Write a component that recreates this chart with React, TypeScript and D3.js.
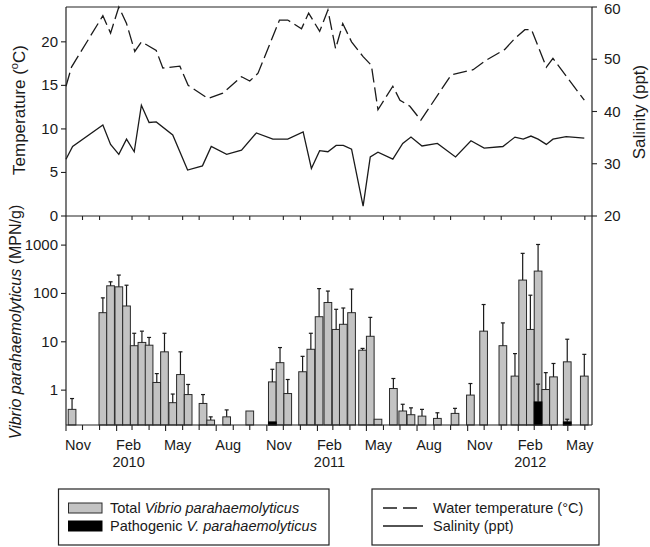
import React from 'react';
import * as d3 from 'd3';

// ---- Data ----
const sampleDates = [
  '2009-11-12', '2010-01-07', '2010-01-21', '2010-02-05', '2010-02-19', '2010-03-05', '2010-03-19',
  '2010-04-01', '2010-04-15', '2010-04-29', '2010-05-14', '2010-05-28', '2010-06-11', '2010-07-08',
  '2010-07-22', '2010-08-20', '2010-10-01', '2010-11-11', '2010-11-25', '2010-12-09', '2011-01-05',
  '2011-01-20', '2011-02-04', '2011-02-20', '2011-03-07', '2011-03-20', '2011-04-04', '2011-04-24',
  '2011-05-08', '2011-05-22', '2011-06-19', '2011-07-06', '2011-07-21', '2011-08-10', '2011-09-07',
  '2011-10-09', '2011-11-06', '2011-11-30', '2012-01-04', '2012-01-26', '2012-02-09', '2012-02-23',
  '2012-03-08', '2012-03-22', '2012-04-05', '2012-04-30', '2012-05-31',
];
const totalVp = [
  0.40, 40, 144, 137, 55, 8.3, 9.7,
  8.5, 1.44, 6.2, 0.55, 2.1, 0.81, 0.53,
  0.24, 0.28, 0.37, 1.48, 3.7, 0.85, 2.4,
  7.0, 33, 65, 18, 23, 40, 6.7,
  13, 0.25, 1.08, 0.37, 0.31, 0.29, 0.26,
  0.33, 0.79, 16.6, 8.3, 1.95, 189, 18,
  290, 1.03, 1.88, 3.85, 1.95,
];
const totalVpErrTop = [
  0.67, 81, 174, 240, 148, 15, 16.6,
  12.3, 2.2, 15, 0.83, 6.2, 1.31, 0.81,
  0.28, 0.39, 0.37, 2.7, 7.6, 1.66, 5.0,
  15, 126, 112, 47, 50, 123, 7.3,
  32, 0.25, 1.74, 0.51, 0.43, 0.40, 0.34,
  0.42, 1.37, 59, 24.6, 5.7, 675, 92,
  1030, 2.3, 3.56, 11.3, 5.5,
];
const pathogenicDates = ['2010-11-11', '2012-03-08', '2012-04-30'];
const pathogenicVp = [0.22, 0.57, 0.22];
const pathogenicVpErrTop = [0.22, 1.33, 0.25];

const tempDates = [
  '2009-11-01', '2009-11-11', '2010-01-07', '2010-01-21', '2010-02-05', '2010-02-19', '2010-03-06',
  '2010-03-18', '2010-04-01', '2010-04-14', '2010-04-26', '2010-05-27', '2010-06-11', '2010-07-17',
  '2010-08-13', '2010-09-16', '2010-10-01', '2010-10-16', '2010-11-24', '2010-12-09', '2011-01-03',
  '2011-01-16', '2011-02-05', '2011-02-20', '2011-03-06', '2011-03-19', '2011-04-04', '2011-04-25',
  '2011-05-10', '2011-05-22', '2011-06-18', '2011-07-01', '2011-07-19', '2011-08-08', '2011-10-02',
  '2011-11-11', '2011-12-05', '2012-01-07', '2012-01-26', '2012-02-13', '2012-02-25', '2012-03-23',
  '2012-04-04', '2012-05-31',
];
const temperature = [
  14.9, 17.1, 23.0, 21.0, 24.0, 22.1, 18.9,
  20.0, 19.5, 19.0, 17.0, 17.2, 15.0, 13.5,
  14.1, 16.0, 15.5, 16.4, 22.5, 22.5, 21.5,
  23.3, 21.2, 23.65, 19.2, 22.1, 20.0, 18.3,
  17.3, 12.2, 14.9, 13.3, 12.6, 11.0, 16.2,
  16.8, 17.9, 19.1, 20.4, 21.4, 21.4, 17.1,
  18.1, 13.3,
];

const salDates = [
  '2009-11-01', '2009-11-13', '2010-01-07', '2010-01-21', '2010-02-05', '2010-02-19', '2010-03-05',
  '2010-03-18', '2010-04-01', '2010-04-14', '2010-05-14', '2010-06-10', '2010-07-07', '2010-07-23',
  '2010-08-20', '2010-09-16', '2010-10-13', '2010-11-12', '2010-12-09', '2011-01-06', '2011-01-21',
  '2011-02-05', '2011-02-20', '2011-03-07', '2011-03-20', '2011-04-04', '2011-04-25', '2011-05-08',
  '2011-05-22', '2011-06-18', '2011-07-06', '2011-07-21', '2011-08-10', '2011-09-07', '2011-10-10',
  '2011-11-07', '2011-12-01', '2012-01-04', '2012-01-26', '2012-02-10', '2012-02-24', '2012-03-08',
  '2012-03-23', '2012-04-04', '2012-04-28', '2012-05-31',
];
const salinity = [
  30.85, 33.3, 37.4, 33.7, 31.8, 34.7, 32.3,
  41.2, 37.9, 38.0, 35.5, 28.8, 29.6, 33.3,
  31.8, 32.6, 35.9, 34.7, 34.7, 36.1, 29.1,
  32.5, 32.3, 33.5, 33.5, 32.8, 21.9, 31.3,
  32.2, 30.9, 33.9, 35.1, 33.4, 33.9, 31.3,
  34.4, 33.0, 33.3, 35.1, 34.7, 35.3, 34.7,
  33.7, 34.7, 35.2, 34.9,
];

const tempTicks = [0, 5, 10, 15, 20];
const salTicks = [20, 30, 40, 50, 60];
const vpTicks = [1, 10, 100, 1000];
const yearLabels = ['2010', '2011', '2012'];

const FONT = 'Liberation Sans, Arial, sans-serif';

export default function App() {
  const W = 650, H = 547;
  const L = 66, R = 592, T = 7, M = 216, B = 425;
  const parse = d3.timeParse('%Y-%m-%d');
  const x = d3.scaleTime().domain([new Date(2009, 10, 1), new Date(2012, 5, 14)]).range([L, R]);
  const yT = d3.scaleLinear().domain([0, 24]).range([M, T]);
  const yS = d3.scaleLinear().domain([20, 60]).range([M, T]);
  const yV = d3.scaleLog().domain([0.19, 4000]).range([B, M]);

  const bw = 7.7;
  const months = d3.timeMonths(new Date(2009, 10, 1), new Date(2012, 5, 14));
  const isMajor = (d: Date) => d.getMonth() % 3 === 1;
  const fmt = d3.timeFormat('%b');

  const tempLine = d3.line<number>()
    .x((_, i) => x(parse(tempDates[i]) as Date))
    .y((v) => yT(v));
  const salLine = d3.line<number>()
    .x((_, i) => x(parse(salDates[i]) as Date))
    .y((v) => yS(v));

  const ink = '#1a1a1a';

  return (
    <svg width={W} height={H} style={{ position: 'absolute', left: 0, top: 0, background: '#fff' }}
      fontFamily={FONT}>
      <rect x={0} y={0} width={W} height={H} fill="#fff" />

      {/* Bars */}
      {totalVp.map((v, i) => {
        const cx = x(parse(sampleDates[i]) as Date);
        const top = yV(v);
        const et = yV(totalVpErrTop[i]);
        return (
          <g key={'b' + i}>
            <rect x={cx - bw / 2} y={top} width={bw} height={B - top}
              fill="#c3c3c3" stroke="#2a2a2a" strokeWidth={1} />
            {totalVpErrTop[i] > v && (
              <g stroke={ink} strokeWidth={1.2}>
                <line x1={cx} x2={cx} y1={top} y2={et} />
                <line x1={cx - 2} x2={cx + 2} y1={et} y2={et} />
              </g>
            )}
          </g>
        );
      })}
      {pathogenicVp.map((v, i) => {
        const cx = x(parse(pathogenicDates[i]) as Date);
        const top = yV(v);
        const et = yV(pathogenicVpErrTop[i]);
        return (
          <g key={'p' + i}>
            <rect x={cx - bw / 2} y={top} width={bw} height={B - top}
              fill="#000" stroke="#000" strokeWidth={1} />
            {pathogenicVpErrTop[i] > v && (
              <g stroke={ink} strokeWidth={1.2}>
                <line x1={cx} x2={cx} y1={top} y2={et} />
                <line x1={cx - 2} x2={cx + 2} y1={et} y2={et} />
              </g>
            )}
          </g>
        );
      })}

      {/* Lines */}
      <path d={tempLine(temperature) || ''} fill="none" stroke={ink} strokeWidth={1.3}
        strokeDasharray="14,5" />
      <path d={salLine(salinity) || ''} fill="none" stroke={ink} strokeWidth={1.3} />

      {/* Frame and axes */}
      <g stroke="#222" strokeWidth={1.2} fill="none">
        <line x1={L} x2={R} y1={T} y2={T} />
        <line x1={L} x2={L} y1={T} y2={B} />
        <line x1={R} x2={R} y1={T} y2={B} />
        <line x1={L} x2={R} y1={M} y2={M} />
        <line x1={L} x2={R} y1={B} y2={B} />
      </g>

      {/* Top panel month ticks (minor months only) */}
      {months.filter((d) => !isMajor(d)).map((d, i) => (
        <line key={'tt' + i} x1={x(d)} x2={x(d)} y1={M} y2={M + 4} stroke="#222" strokeWidth={1.1} />
      ))}
      {/* Bottom month ticks */}
      {months.map((d, i) => (
        <line key={'bt' + i} x1={x(d)} x2={x(d)} y1={B} y2={B + (isMajor(d) ? 6 : 5)}
          stroke="#222" strokeWidth={1.1} />
      ))}
      {months.filter(isMajor).map((d, i) => (
        <text key={'ml' + i} x={x(d) + 12} y={450} textAnchor="middle" fontSize={14.5} fill={ink}>
          {fmt(d)}
        </text>
      ))}
      {yearLabels.map((yl, i) => (
        <text key={'yl' + i} x={x(new Date(+yl, 1, 1)) + 12} y={467} textAnchor="middle"
          fontSize={14.5} fill={ink}>{yl}</text>
      ))}

      {/* Temperature axis */}
      {tempTicks.map((t) => (
        <g key={'yt' + t}>
          <line x1={L - 5} x2={L} y1={yT(t)} y2={yT(t)} stroke="#222" strokeWidth={1.1} />
          <text x={L - 8} y={yT(t) + 5} textAnchor="end" fontSize={15} fill={ink}>{t}</text>
        </g>
      ))}
      {/* Salinity axis */}
      {salTicks.map((t) => (
        <g key={'ys' + t}>
          <line x1={R} x2={R + 5} y1={yS(t)} y2={yS(t)} stroke="#222" strokeWidth={1.1} />
          <text x={R + 12} y={Math.max(yS(t) + 5, 14)} textAnchor="start" fontSize={15} fill={ink}>{t}</text>
        </g>
      ))}
      {/* Vp axis */}
      {vpTicks.map((t) => (
        <g key={'yv' + t}>
          <line x1={L - 5} x2={L} y1={yV(t)} y2={yV(t)} stroke="#222" strokeWidth={1.1} />
          <text x={L - 8} y={yV(t) + 5} textAnchor="end" fontSize={15} fill={ink}>{t}</text>
        </g>
      ))}

      {/* Axis titles */}
      <text transform="translate(25,110) rotate(-90)" textAnchor="middle" fontSize={17} fill={ink}>
        Temperature (<tspan fontSize={11} dy={-7}>o</tspan><tspan dy={7}>C)</tspan>
      </text>
      <text transform="translate(645,112) rotate(-90)" textAnchor="middle" fontSize={17} fill={ink}>
        Salinity (ppt)
      </text>
      <text transform="translate(21,322) rotate(-90)" textAnchor="middle" fontSize={16} fill={ink}>
        <tspan fontStyle="italic">Vibrio parahaemolyticus</tspan> (MPN/g)
      </text>

      {/* Legends */}
      <g fill="none" stroke="#222" strokeWidth={1.2}>
        <rect x={58.5} y={489} width={270.5} height={56} />
        <rect x={372} y={489} width={227} height={56} />
      </g>
      <rect x={68.5} y={503} width={33.5} height={10} fill="#c3c3c3" stroke="#2a2a2a" strokeWidth={1} />
      <rect x={68.5} y={521} width={33.5} height={10} fill="#000" stroke="#000" strokeWidth={1} />
      <text x={110} y={513} fontSize={14.5} fill={ink}>
        Total <tspan fontStyle="italic">Vibrio parahaemolyticus</tspan>
      </text>
      <text x={110} y={531} fontSize={14.5} fill={ink}>
        Pathogenic <tspan fontStyle="italic">V. parahaemolyticus</tspan>
      </text>
      <line x1={383} x2={418} y1={508} y2={508} stroke={ink} strokeWidth={1.3} strokeDasharray="14,6" />
      <line x1={383} x2={423} y1={526} y2={526} stroke={ink} strokeWidth={1.3} />
      <text x={433} y={513} fontSize={14.5} fill={ink}>Water temperature (°C)</text>
      <text x={433} y={531} fontSize={14.5} fill={ink}>Salinity (ppt)</text>
    </svg>
  );
}
